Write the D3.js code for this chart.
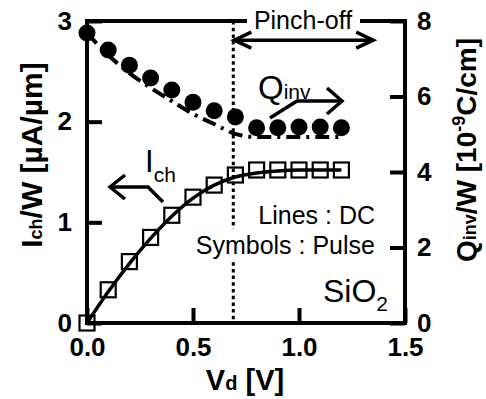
<!DOCTYPE html>
<html><head><meta charset="utf-8">
<script src="https://cdn.jsdelivr.net/npm/d3@7"></script>
<style>body{margin:0;background:#fff}svg{display:block}text{font-family:"Liberation Sans",Arial,sans-serif}</style>
</head><body><svg id="c" width="486" height="399"></svg>
<script>
const vd = [0,0.1,0.2,0.3,0.4,0.5,0.6,0.7,0.8,0.9,1.0,1.1,1.2];
const ichPulse = [0,0.33,0.61,0.85,1.07,1.25,1.37,1.47,1.52,1.52,1.52,1.52,1.52];
const ichDC    = [0,0.31,0.59,0.84,1.06,1.24,1.37,1.45,1.49,1.51,1.52,1.52,1.52];
const qPulse   = [7.68,7.23,6.83,6.49,6.17,5.85,5.62,5.46,5.17,5.17,5.19,5.19,5.17];
const qDC      = [7.68,7.10,6.62,6.23,5.88,5.54,5.27,5.01,4.93,4.93,4.93,4.93,4.93];
const xTicks = [0,0.5,1.0,1.5];
const yLTicks = [0,1,2,3];
const yRTicks = [0,2,4,6,8];
const pinchOff = 0.69;

const svg = d3.select("#c");
const L=87,R=405,T=21,B=323;
const x = d3.scaleLinear([0,1.5],[L,R]);
const yL = d3.scaleLinear([0,3],[B,T]);
const yR = d3.scaleLinear([0,8],[B,T]);

// axes
const ax = svg.append("g").attr("transform",`translate(0,${B})`)
  .call(d3.axisBottom(x).tickValues(xTicks).tickFormat(d3.format(".1f")).tickSize(-15).tickSizeOuter(0).tickPadding(15));
const ay = svg.append("g").attr("transform",`translate(${L},0)`)
  .call(d3.axisLeft(yL).tickValues(yLTicks).tickFormat(d3.format("d")).tickSize(-15).tickSizeOuter(0).tickPadding(15));
const ar = svg.append("g").attr("transform",`translate(${R},0)`)
  .call(d3.axisRight(yR).tickValues(yRTicks).tickFormat(d3.format("d")).tickSize(-15).tickSizeOuter(0).tickPadding(12));
[ax,ay,ar].forEach(g=>{
  g.select(".domain").remove();
  g.selectAll("line").attr("stroke","#000").attr("stroke-width",4);
  g.selectAll("text").attr("font-size",26).attr("font-weight","bold").attr("fill","#000").attr("font-family","Liberation Sans, Arial, sans-serif");
});

// frame
svg.append("rect").attr("x",L).attr("y",T).attr("width",R-L).attr("height",B-T)
  .attr("fill","none").attr("stroke","#000").attr("stroke-width",4);

// dotted pinch-off line
svg.append("line").attr("x1",x(pinchOff)).attr("x2",x(pinchOff)).attr("y1",T).attr("y2",B)
  .attr("stroke","#000").attr("stroke-width",3).attr("stroke-dasharray","3.5,3.2");

// Pinch-off label with white background
svg.append("rect").attr("x",247).attr("y",6).attr("width",113).attr("height",28).attr("fill","#fff");
svg.append("text").attr("x",303).attr("y",29).attr("text-anchor","middle").attr("font-size",25).text("Pinch-off");
function arrowHead(g,tx,ty,dir,dx,dy){
  g.append("path").attr("d",`M${tx+dir*dx},${ty-dy}L${tx},${ty}L${tx+dir*dx},${ty+dy}`)
   .attr("fill","none").attr("stroke","#000").attr("stroke-width",3.5);
}
const ann = svg.append("g");
const pyA = yL(2.81);
ann.append("line").attr("x1",x(pinchOff)).attr("x2",x(1.35)).attr("y1",pyA).attr("y2",pyA).attr("stroke","#000").attr("stroke-width",3.5);
arrowHead(ann,x(pinchOff)+1,pyA,1,17,8);
arrowHead(ann,x(1.35),pyA,-1,17,8);

// Legend text
svg.append("rect").attr("x",226).attr("y",229).attr("width",14).attr("height",31).attr("fill","#fff");
svg.append("text").attr("x",375).attr("y",224).attr("text-anchor","end").attr("font-size",25).text("Lines : DC");
svg.append("text").attr("x",375).attr("y",254).attr("text-anchor","end").attr("font-size",25).text("Symbols : Pulse");
const sio = svg.append("text").attr("x",388).attr("y",302).attr("text-anchor","end").attr("font-size",32);
sio.append("tspan").text("SiO");
sio.append("tspan").attr("font-size",21).attr("dy",9).text("2");

// Qinv DC line
const lineQ = d3.line().x((d,i)=>x(vd[i])).y(d=>yR(d)).curve(d3.curveMonotoneX);
svg.append("path").attr("d",lineQ(qDC)).attr("fill","none").attr("stroke","#000")
  .attr("stroke-width",4).attr("stroke-dasharray","14,6,3,6");
// Qinv pulse
svg.append("g").selectAll("circle").data(qPulse).join("circle")
  .attr("cx",(d,i)=>x(vd[i])).attr("cy",d=>yR(d)).attr("r",8.5).attr("fill","#000");

// Ich DC line
const lineI = d3.line().x((d,i)=>x(vd[i])).y(d=>yL(d)).curve(d3.curveMonotoneX);
svg.append("path").attr("d",lineI(ichDC)).attr("fill","none").attr("stroke","#000").attr("stroke-width",3.5);
// Ich pulse squares
svg.append("g").selectAll("rect").data(ichPulse).join("rect")
  .attr("x",(d,i)=>x(vd[i])-7.5).attr("y",d=>yL(d)-7.5).attr("width",15).attr("height",15)
  .attr("fill","none").attr("stroke","#000").attr("stroke-width",2.2);

// Qinv annotation
const qt = svg.append("text").attr("x",258).attr("y",99).attr("font-size",33);
qt.append("tspan").text("Q");
qt.append("tspan").attr("font-size",21).attr("dy",0).text("inv");
ann.append("path").attr("d",`M270,118L297,101L342,101`).attr("fill","none").attr("stroke","#000").attr("stroke-width",3.5);
arrowHead(ann,342,101,-1,15,13);

// Ich annotation
const it = svg.append("text").attr("x",145).attr("y",172).attr("font-size",31);
it.append("tspan").text("I");
it.append("tspan").attr("font-size",21).attr("dy",10).text("ch");
ann.append("path").attr("d",`M163,202L148,187L110,187`).attr("fill","none").attr("stroke","#000").attr("stroke-width",3.5);
arrowHead(ann,110,187,1,15,12);

// Axis titles
const lt = svg.append("text").attr("transform","translate(42,155) rotate(-90)").attr("text-anchor","middle")
  .attr("font-size",30).attr("font-weight","bold");
lt.append("tspan").text("I");
lt.append("tspan").attr("font-size",18).text("ch");
lt.append("tspan").text("/W [µA/µm]");

const rt = svg.append("text").attr("transform","translate(476,150) rotate(-90)").attr("text-anchor","middle")
  .attr("font-size",28).attr("font-weight","bold");
rt.append("tspan").text("Q");
rt.append("tspan").attr("font-size",18).text("inv");
rt.append("tspan").text("/W [10");
rt.append("tspan").attr("font-size",18).attr("dy",-11).text("-9");
rt.append("tspan").attr("dy",11).text("C/cm]");

const bt = svg.append("text").attr("x",245).attr("y",390).attr("text-anchor","middle")
  .attr("font-size",29).attr("font-weight","bold");
bt.append("tspan").text("V");
bt.append("tspan").attr("font-size",20).text("d");
bt.append("tspan").text(" [V]");
</script></body></html>
